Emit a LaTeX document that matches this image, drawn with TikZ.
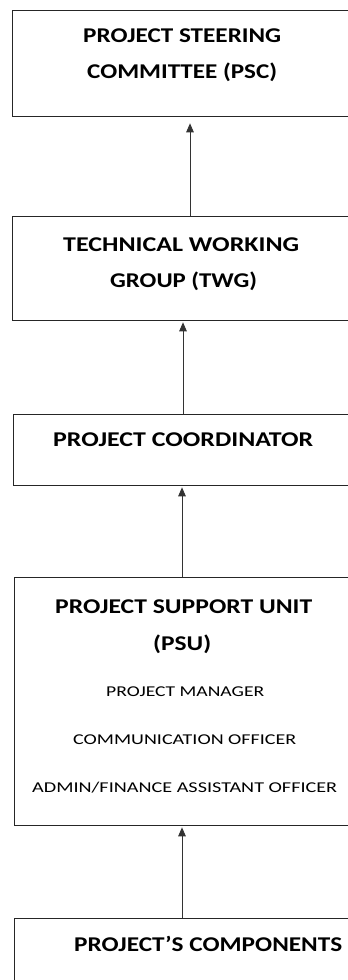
\documentclass[tikz,border=0pt]{standalone}
\usepackage{fontspec}
\usepackage{graphicx}
\setmainfont{Carlito}
\usetikzlibrary{arrows.meta}
\newcommand{\bigt}[2]{\resizebox{#1pt}{\height}{\fontsize{21}{24}\selectfont\bfseries #2}}
\newcommand{\smallt}[2]{\resizebox{#1pt}{\height}{\fontsize{15}{18}\selectfont #2}}
\tikzset{
  box/.style={draw=black!85, line width=1.3pt, anchor=north west, minimum width=350pt, inner sep=0pt},
  lbl/.style={anchor=base west, inner sep=0pt, text=black},
  arr/.style={draw=black!80, line width=1pt, -{Triangle[length=9pt,width=7.5pt]}}
}
\begin{document}
\begin{tikzpicture}[x=1pt,y=1pt]
\useasboundingbox (0,0) rectangle (348,-980);
\clip (0,0) rectangle (348,-980);
\fill[white] (0,0) rectangle (348,-980);
% boxes
\node[box, minimum height=106pt] (b1) at (12,-10) {};
\node[box, minimum height=104pt] (b2) at (12,-216) {};
\node[box, minimum height=71pt] (b3) at (13,-414) {};
\node[box, minimum height=248pt] (b4) at (14,-577) {};
\node[box, minimum height=90pt] (b5) at (14,-918) {};
% texts
\node[lbl] (t1a) at (83,-42) {\bigt{198}{PROJECT STEERING}};
\node[lbl] (t1b) at (87,-78) {\bigt{190}{COMMITTEE (PSC)}};
\node[lbl] (t2a) at (63,-251) {\bigt{236}{TECHNICAL WORKING}};
\node[lbl] (t2b) at (110,-287) {\bigt{147}{GROUP (TWG)}};
\node[lbl] (t3) at (53,-446) {\bigt{260}{PROJECT COORDINATOR}};
\node[lbl] (t4a) at (55,-613) {\bigt{257}{PROJECT SUPPORT UNIT}};
\node[lbl] (t4b) at (153,-650) {\bigt{58}{(PSU)}};
\node[lbl] (t4c) at (106,-696) {\smallt{158}{PROJECT MANAGER}};
\node[lbl] (t4d) at (73,-744) {\smallt{223}{COMMUNICATION OFFICER}};
\node[lbl] (t4e) at (32,-792) {\smallt{305}{ADMIN/FINANCE ASSISTANT OFFICER}};
\node[lbl] (t5) at (74,-951) {\bigt{268}{PROJECT’S COMPONENTS}};
% arrows
\coordinate (x1) at (190,0);
\coordinate (x2) at (183,0);
\coordinate (x3) at (182,0);
\draw[arr] (b2.north -| x1) -- ([yshift=-6pt]b1.south -| x1);
\draw[arr] (b3.north -| x2) -- ([yshift=-1pt]b2.south -| x2);
\draw[arr] (b4.north -| x3) -- ([yshift=-1pt]b3.south -| x3);
\draw[arr] (b5.north -| x3) -- ([yshift=-1pt]b4.south -| x3);
\end{tikzpicture}
\end{document}
